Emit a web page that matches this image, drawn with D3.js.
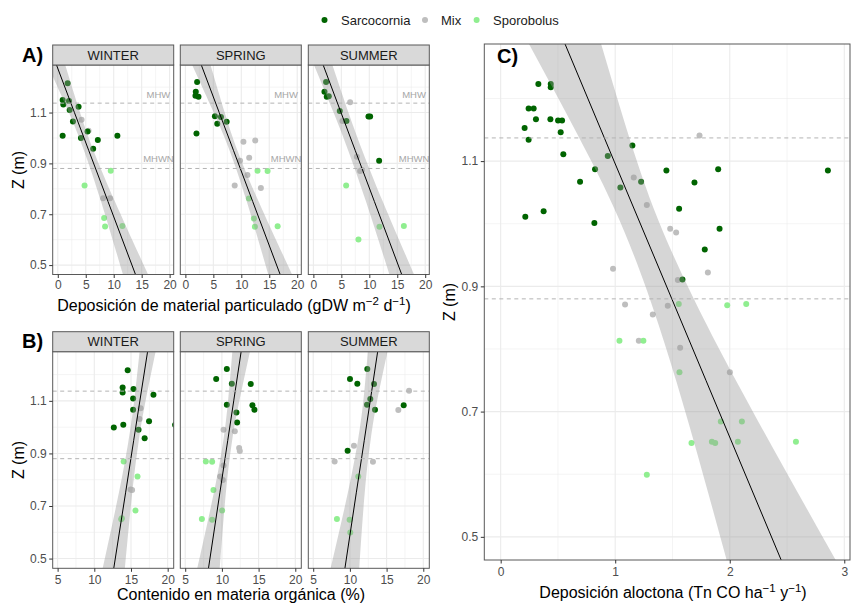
<!DOCTYPE html>
<html>
<head>
<meta charset="utf-8">
<script src="https://cdnjs.cloudflare.com/ajax/libs/d3/7.8.5/d3.min.js"></script>
<style>
  body { margin: 0; background: #fff; }
  svg { display: block; font-family: "Liberation Sans", Arial, sans-serif; }
</style>
</head>
<body>
<div class="chart"></div>
<script>
// species: 0 = Sarcocornia, 1 = Mix, 2 = Sporobolus
var species = ["Sarcocornia", "Mix", "Sporobolus"];
var speciesColors = ["#006400", "#bebebe", "#90ee90"];
var seasons = ["WINTER", "SPRING", "SUMMER"];

// reference levels (m)
var levelValues = [1.137, 0.88];
var levelNames = ["MHW", "MHWN"];
var levelLabelZ = [1.172, 0.917];
var levelLabelX = 18;

var zDomain = [0.463, 1.287];
var zTicks = [0.5, 0.7, 0.9, 1.1];
var zMinor = [0.6, 0.8, 1.0, 1.2];

var xDomainA = [-0.91, 20.73], xTicksA = [0, 5, 10, 15, 20], xMinorA = [2.5, 7.5, 12.5, 17.5];
var xDomainB = [4.33, 20.82], xTicksB = [5, 10, 15, 20], xMinorB = [7.5, 12.5, 17.5];
var xDomainC = [-0.143, 3.05], xTicksC = [0, 1, 2, 3], xMinorC = [0.5, 1.5, 2.5];

// points: [species, x, Z]
// A) particulate deposition (gDW m-2 d-1)
var depWinter = [[0,1.76,1.215],[0,0.87,1.149],[0,0.99,1.132],[0,2.0,1.145],[0,3.72,1.123],[0,2.12,1.110],
  [0,2.71,1.065],[0,5.32,1.025],[0,0.87,1.009],[0,4.14,1.000],[0,7.16,0.992],[0,10.66,1.009],[0,6.33,0.958],
  [1,4.25,1.072],[1,5.5,1.028],[1,8.11,0.763],[1,9.35,0.763],
  [2,9.47,0.871],[2,4.79,0.813],[2,8.29,0.685],[2,8.46,0.652],[2,11.55,0.654]];
var depSpring = [[0,2.10,1.220],[0,1.86,1.182],[0,1.80,1.166],[0,2.34,1.162],[0,5.28,1.085],[0,6.36,1.082],
  [0,5.70,1.056],[0,7.38,1.064],[0,1.98,1.018],
  [1,10.38,0.985],[1,12.49,0.990],[1,9.78,0.910],[1,11.41,0.922],[1,11.10,0.854],[1,8.82,0.813],[1,13.5,0.803],
  [2,12.9,0.871],[2,14.7,0.870],[2,11.35,0.762],[2,12.25,0.683],[2,12.43,0.651],[2,16.5,0.653]];
var depSummer = [[0,2.27,1.220],[0,1.98,1.182],[0,2.39,1.162],[0,2.75,1.164],[0,4.72,1.106],[0,5.91,1.067],
  [0,9.85,1.084],[0,10.15,1.084],[0,11.76,0.910],
  [1,6.57,1.140],[1,5.2,1.067],[1,7.77,0.926],[1,8.36,0.870],[1,8.66,0.874],
  [2,5.86,0.813],[2,11.82,0.651],[2,16.18,0.654],[2,8.06,0.601]];

// B) organic matter content (%)
var omWinter = [[0,14.55,1.216],[0,13.86,1.151],[0,13.86,1.132],[0,15.34,1.145],[0,18.06,1.123],[0,15.29,1.109],
  [0,15.29,1.066],[0,17.46,1.022],[0,13.95,1.009],[0,12.66,0.999],[0,16.03,0.990],[0,16.86,0.958],[0,21.0,1.009],
  [1,16.31,1.072],[1,16.17,1.031],[1,15.15,0.761],[1,14.95,0.763],
  [2,14.0,0.869],[2,15.89,0.812],[2,15.61,0.683],[2,13.67,0.650],[2,13.75,0.653]];
var omSpring = [[0,10.67,1.221],[0,9.22,1.183],[0,11.35,1.165],[0,13.93,1.164],[0,10.67,1.085],[0,14.16,1.083],
  [0,14.43,1.066],[0,11.98,1.056],[0,12.07,1.018],
  [1,10.22,0.990],[1,11.76,0.984],[1,12.35,0.921],[1,12.44,0.909],[1,10.22,0.854],[1,9.76,0.812],[1,10.12,0.799],
  [2,7.81,0.869],[2,8.67,0.868],[2,8.85,0.761],[2,10.03,0.683],[2,7.27,0.651],[2,8.67,0.648]];
var omSummer = [[0,12.37,1.221],[0,10.01,1.183],[0,11.01,1.165],[0,13.28,1.164],[0,12.78,1.107],[0,12.33,1.085],
  [0,13.42,1.066],[0,17.33,1.083],[0,9.69,0.910],
  [1,18.06,1.138],[1,16.6,1.065],[1,10.55,0.929],[1,7.92,0.869],[1,13.14,0.868],
  [2,11.14,0.812],[2,8.23,0.651],[2,9.96,0.648],[2,10.05,0.599]];

// C) allochthonous deposition (Tn CO ha-1 y-1)
var alloc = [[0,0.329,1.223],[0,0.437,1.223],[0,0.437,1.218],[0,0.244,1.184],[0,0.288,1.184],[0,0.308,1.167],
  [0,0.434,1.167],[0,0.501,1.165],[0,0.536,1.165],[0,0.209,1.153],[0,0.524,1.146],[0,0.244,1.134],[0,1.150,1.125],
  [0,0.547,1.111],[0,0.935,1.108],[0,0.824,1.087],[0,1.447,1.085],[0,1.899,1.087],[0,2.857,1.085],[0,0.693,1.067],
  [0,1.226,1.067],[0,1.692,1.066],[0,1.045,1.058],[0,1.558,1.024],[0,0.375,1.020],[0,0.215,1.011],[0,0.818,1.001],
  [0,1.911,0.992],[0,1.782,0.959],[0,1.587,0.911],
  [1,1.736,1.141],[1,1.162,1.074],[1,1.276,1.030],[1,1.480,0.992],[1,1.532,0.986],[1,0.981,0.928],[1,1.809,0.922],
  [1,1.547,0.910],[1,1.086,0.871],[1,1.459,0.869],[1,1.328,0.855],[1,1.206,0.813],[1,1.567,0.802],[1,2.001,0.763],
  [2,1.555,0.872],[2,1.978,0.870],[2,2.144,0.872],[2,1.037,0.813],[2,1.246,0.813],[2,1.561,0.763],[2,1.922,0.684],
  [2,2.106,0.684],[2,1.666,0.650],[2,1.844,0.652],[2,1.873,0.650],[2,2.071,0.652],[2,2.578,0.652],[2,1.276,0.599]];

// fitted line and 95% band: [Z, lower, fit, upper]
var depFitWinter = [[1.287,-1.79,-0.23,1.33],[1.1,1.98,2.98,3.98],[0.95,4.70,5.55,6.40],[0.75,7.74,8.98,10.22],[0.463,11.65,13.90,16.15]];
var depFitSpring = [[1.287,1.21,2.85,4.49],[1.1,5.07,6.05,7.03],[0.95,7.92,8.62,9.32],[0.75,10.98,12.04,13.10],[0.463,14.82,16.95,19.08]];
var depFitSummer = [[1.287,0.10,1.75,3.40],[1.1,3.61,4.94,6.27],[0.95,6.24,7.50,8.76],[0.75,9.41,10.91,12.41],[0.463,13.60,15.80,18.00]];
var omFitWinter = [[1.287,16.17,17.26,18.35],[1.1,15.43,16.21,16.99],[0.95,14.67,15.37,16.07],[0.75,13.35,14.26,15.17],[0.463,11.14,12.65,14.16]];
var omFitSpring = [[1.287,11.42,12.62,13.82],[1.1,10.84,11.61,12.38],[0.95,10.20,10.80,11.40],[0.75,8.90,9.72,10.54],[0.463,6.64,8.17,9.70]];
var omFitSummer = [[1.287,12.44,13.78,15.12],[1.1,11.83,12.77,13.71],[0.95,11.10,11.96,12.82],[0.75,9.72,10.87,12.02],[0.463,7.37,9.32,11.27]];
var allocFit = [[1.287,0.247,0.562,0.877],[1.1,0.791,0.990,1.189],[0.95,1.162,1.334,1.506],[0.75,1.531,1.792,2.053],[0.463,1.973,2.449,2.925]];

var svg = d3.select(".chart").append("svg")
  .attr("width", 852)
  .attr("height", 606);

var clipCount = 0;

function drawFacet(c) {
  var x = d3.scaleLinear().domain(c.xDomain).range([c.left, c.right]);
  var y = d3.scaleLinear().domain(zDomain).range([c.bottom, c.top]);
  var g = svg.append("g");
  var id = "clip" + (clipCount++);

  g.append("clipPath").attr("id", id).append("rect")
    .attr("x", c.left).attr("y", c.top)
    .attr("width", c.right - c.left).attr("height", c.bottom - c.top);

  var inner = g.append("g").attr("clip-path", "url(#" + id + ")");

  // grid
  inner.selectAll(".vminor").data(c.xMinor).enter().append("line")
    .attr("x1", d => x(d)).attr("x2", d => x(d)).attr("y1", c.top).attr("y2", c.bottom)
    .attr("stroke", "#ebebeb").attr("stroke-width", 0.55);
  inner.selectAll(".hminor").data(zMinor).enter().append("line")
    .attr("y1", d => y(d)).attr("y2", d => y(d)).attr("x1", c.left).attr("x2", c.right)
    .attr("stroke", "#ebebeb").attr("stroke-width", 0.55);
  inner.selectAll(".vmajor").data(c.xTicks).enter().append("line")
    .attr("x1", d => x(d)).attr("x2", d => x(d)).attr("y1", c.top).attr("y2", c.bottom)
    .attr("stroke", "#ebebeb").attr("stroke-width", 1.1);
  inner.selectAll(".hmajor").data(zTicks).enter().append("line")
    .attr("y1", d => y(d)).attr("y2", d => y(d)).attr("x1", c.left).attr("x2", c.right)
    .attr("stroke", "#ebebeb").attr("stroke-width", 1.1);

  // points: Mix, Sporobolus, then Sarcocornia on top
  var ordered = [1, 2, 0].reduce((acc, s) => acc.concat(c.data.filter(d => d[0] === s)), []);
  inner.selectAll("circle").data(ordered).enter().append("circle")
    .attr("cx", d => x(d[1]))
    .attr("cy", d => y(d[2]))
    .attr("r", 3)
    .attr("fill", d => speciesColors[d[0]]);

  // smooth: band then line
  inner.append("path")
    .attr("d", d3.area().curve(d3.curveNatural)
      .y(d => y(d[0])).x0(d => x(d[1])).x1(d => x(d[3]))(c.fit))
    .attr("fill", "#999999").attr("fill-opacity", 0.4);
  inner.append("path")
    .attr("d", d3.line().y(d => y(d[0])).x(d => x(d[2]))(c.fit))
    .attr("fill", "none").attr("stroke", "#000").attr("stroke-width", 1);

  // reference levels
  inner.selectAll(".level").data(levelValues).enter().append("line")
    .attr("x1", c.left).attr("x2", c.right)
    .attr("y1", d => y(d)).attr("y2", d => y(d))
    .attr("stroke", "#b3b3b3").attr("stroke-width", 1)
    .attr("stroke-dasharray", "4,3.5");

  if (c.levelText) {
    inner.selectAll(".levtext").data(levelNames).enter().append("text")
      .attr("x", x(levelLabelX))
      .attr("y", (d, i) => y(levelLabelZ[i]) + 3.3)
      .attr("text-anchor", "middle")
      .attr("font-size", "9.5px")
      .attr("fill", "#a6a6a6")
      .text(d => d);
  }

  // border
  g.append("rect")
    .attr("x", c.left).attr("y", c.top)
    .attr("width", c.right - c.left).attr("height", c.bottom - c.top)
    .attr("fill", "none").attr("stroke", "#595959").attr("stroke-width", 1);

  // strip
  if (c.strip) {
    g.append("rect")
      .attr("x", c.left).attr("y", c.top - 20)
      .attr("width", c.right - c.left).attr("height", 20)
      .attr("fill", "#d9d9d9").attr("stroke", "#595959").attr("stroke-width", 1);
    g.append("text")
      .attr("x", (c.left + c.right) / 2).attr("y", c.top - 5.5)
      .attr("text-anchor", "middle")
      .attr("font-size", "13px")
      .attr("fill", "#1a1a1a")
      .text(c.strip);
  }

  // axes
  var bottomAxis = d3.axisBottom(x).tickValues(c.xTicks).tickSize(3.5).tickPadding(c.xPad)
    .tickFormat(d3.format("d"));
  var gx = g.append("g").attr("transform", `translate(0, ${c.bottom})`).call(bottomAxis);
  styleAxis(gx);

  if (c.yLabels) {
    var leftAxis = d3.axisLeft(y).tickValues(zTicks).tickSize(3.5).tickPadding(2.5)
      .tickFormat(d3.format(".1f"));
    var gy = g.append("g").attr("transform", `translate(${c.left}, 0)`).call(leftAxis);
    styleAxis(gy);
  }
}

function styleAxis(sel) {
  sel.select(".domain").remove();
  sel.selectAll(".tick line").attr("stroke", "#333");
  sel.selectAll(".tick text")
    .attr("fill", "#4d4d4d")
    .attr("font-size", "12px")
    .attr("font-family", "\"Liberation Sans\", Arial, sans-serif");
}

// layout
var facetLeft = [52.7, 180.3, 308.3];
var facetWidth = 121;
var depSets = [depWinter, depSpring, depSummer];
var omSets = [omWinter, omSpring, omSummer];
var depFits = [depFitWinter, depFitSpring, depFitSummer];
var omFits = [omFitWinter, omFitSpring, omFitSummer];

seasons.forEach(function(season, i) {
  drawFacet({
    left: facetLeft[i], right: facetLeft[i] + facetWidth, top: 65, bottom: 274.5,
    xDomain: xDomainA, xTicks: xTicksA, xMinor: xMinorA,
    data: depSets[i], fit: depFits[i], strip: season, yLabels: i === 0, levelText: true, xPad: 2.5
  });
  drawFacet({
    left: facetLeft[i], right: facetLeft[i] + facetWidth, top: 351.7, bottom: 568.3,
    xDomain: xDomainB, xTicks: xTicksB, xMinor: xMinorB,
    data: omSets[i], fit: omFits[i], strip: season, yLabels: i === 0, levelText: false, xPad: 3.5
  });
});

drawFacet({
  left: 484.3, right: 850, top: 44, bottom: 560,
  xDomain: xDomainC, xTicks: xTicksC, xMinor: xMinorC,
  data: alloc, fit: allocFit, strip: null, yLabels: true, levelText: false, xPad: 3.5
});

// axis titles with superscripts
function title(x, y, parts) {
  var t = svg.append("text")
    .attr("x", x).attr("y", y)
    .attr("text-anchor", "middle")
    .attr("font-size", "16px")
    .attr("fill", "#000");
  var shift = 0;
  parts.forEach(function(p) {
    var sup = p[1];
    var dy = sup ? -6.5 - shift : (shift ? 6.5 : 0);
    shift = sup ? 6.5 : 0;
    t.append("tspan")
      .attr("dy", dy)
      .attr("font-size", sup ? "11.5px" : "16px")
      .text(p[0]);
  });
  return t;
}

title(234, 311, [["Deposición de material particulado (gDW m", 0], ["\u22122", 1], [" d", 0], ["\u22121", 1], [")", 0]]);
title(241, 600, [["Contenido en materia orgánica (%)", 0]]);
title(673, 598, [["Deposición aloctona (Tn CO ha", 0], ["\u22121", 1], [" y", 0], ["\u22121", 1], [")", 0]]);

var yTitles = [[24, 170], [24, 460], [455, 302]];
svg.selectAll(".ytitle").data(yTitles).enter().append("text")
  .attr("transform", d => `translate(${d[0]}, ${d[1]}) rotate(-90)`)
  .attr("text-anchor", "middle")
  .attr("font-size", "16px")
  .text("Z (m)");

// panel tags
var tags = [["A)", 22, 62], ["B)", 22, 348], ["C)", 497, 63]];
svg.selectAll(".tag").data(tags).enter().append("text")
  .attr("x", d => d[1]).attr("y", d => d[2])
  .attr("font-size", "20px")
  .attr("font-weight", "bold")
  .text(d => d[0]);

// legend
var legendDotX = [324.5, 425, 476.6];
var legendTextX = [341, 441, 493];
var legend = svg.append("g");
legend.selectAll("circle").data(species).enter().append("circle")
  .attr("cx", (d, i) => legendDotX[i]).attr("cy", 20)
  .attr("r", 3)
  .attr("fill", (d, i) => speciesColors[i]);
legend.selectAll("text").data(species).enter().append("text")
  .attr("x", (d, i) => legendTextX[i]).attr("y", 24.5)
  .attr("font-size", "13px")
  .attr("fill", "#1a1a1a")
  .text(d => d);
</script>
</body>
</html>
